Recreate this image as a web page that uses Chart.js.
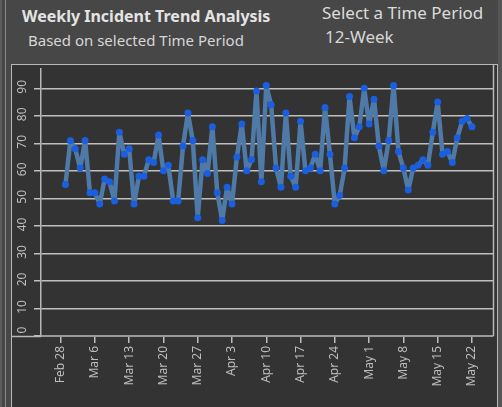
<!DOCTYPE html>
<html>
<head>
<meta charset="utf-8">
<script src="https://cdn.jsdelivr.net/npm/chart.js"></script>
<style>
  html, body { margin: 0; padding: 0; }
  body { width: 502px; height: 407px; overflow: hidden; background: #474747; position: relative; font-family: 'Noto Sans', sans-serif; }
  .txt { position: absolute; white-space: nowrap; line-height: 1; }
  #title { left: 22px; top: 8px; font-size: 16px; font-weight: bold; color: #e4e4e4; }
  #subtitle { left: 28px; top: 33px; font-size: 15px; color: #d6d6d6; }
  #selLabel { left: 322px; top: 4px; font-size: 17px; color: #dcdcdc; }
  #selValue { left: 325px; top: 28px; font-size: 17px; color: #d6d6d6; }
  .edge { position: absolute; top: 0; height: 407px; }
  #panel { position: absolute; left: 11px; top: 64px; width: 487px; height: 343px; box-sizing: border-box;
           background: #333333; border: 1px solid #b8b8b8; border-bottom: none; }
  #chart { position: absolute; left: 0; top: 0; }
</style>
</head>
<body>
<div class="edge" style="left:0;width:2px;background:#5c5c5c"></div>
<div class="edge" style="left:5px;width:1px;background:#8a8a8a"></div>
<div class="edge" style="left:498px;width:4px;background:#555555"></div>

<div class="txt" id="title">Weekly Incident Trend Analysis</div>
<div class="txt" id="subtitle">Based on selected Time Period</div>
<div class="txt" id="selLabel">Select a Time Period</div>
<div class="txt" id="selValue">12-Week</div>

<div id="panel"><canvas id="chart" width="485" height="343"></canvas></div>

<script>
// weekly tick labels (2024), first tick = day 0 (Feb 28)
const tickLabels = ['Feb 28', 'Mar 6', 'Mar 13', 'Mar 20', 'Mar 27', 'Apr 3', 'Apr 10',
                    'Apr 17', 'Apr 24', 'May 1', 'May 8', 'May 15', 'May 22'];
// daily incident counts, Feb 29 .. May 22
const incidents = [55, 71, 68, 61, 71, 52, 52, 48, 57, 56, 49, 74, 66, 68, 48, 58, 58, 64, 63, 73, 60,
                   62, 49, 49, 69, 81, 71, 43, 64, 59, 76, 52, 42, 54, 48, 65, 77, 60, 64, 89, 56, 91,
                   84, 61, 54, 81, 58, 54, 78, 60, 61, 66, 60, 83, 66, 48, 51, 61, 87, 72, 76, 90, 77,
                   86, 69, 60, 71, 91, 67, 61, 53, 61, 62, 64, 62, 74, 85, 66, 67, 63, 72, 78, 79, 76];
const firstDay = 1;   // Feb 29 is one day after Feb 28
const yTicks = [0, 10, 20, 30, 40, 50, 60, 70, 80, 90];

const points = incidents.map((v, i) => ({ x: firstDay + i, y: v }));

// y labels are rotated like the x labels, chart.js can't do that on a vertical axis
const yLabelPlugin = {
  id: 'yLabels',
  afterDraw(chart) {
    const { ctx, chartArea, scales } = chart;
    ctx.save();
    ctx.fillStyle = '#bdbdbd';
    ctx.font = '12px "Noto Sans"';
    ctx.textAlign = 'center';
    ctx.textBaseline = 'middle';
    yTicks.forEach(t => {
      const y = Math.min(scales.y.getPixelForValue(t) - 1.5, chartArea.bottom - 6);
      ctx.save();
      ctx.translate(11, y);
      ctx.rotate(-Math.PI / 2);
      ctx.fillText(String(t), 0, 0);
      ctx.restore();
    });
    // frame: right edge of the plot + bottom of the y column
    ctx.strokeStyle = '#b8b8b8';
    ctx.lineWidth = 1.5;
    ctx.beginPath();
    ctx.moveTo(chartArea.right + 0.5, 0);
    ctx.lineTo(chartArea.right + 0.5, chartArea.bottom);
    ctx.moveTo(0, chartArea.bottom + 0.5);
    ctx.lineTo(chartArea.left, chartArea.bottom + 0.5);
    ctx.stroke();
    ctx.restore();
  }
};

new Chart(document.getElementById('chart'), {
  type: 'line',
  data: {
    datasets: [{
      data: points,
      borderColor: '#4f7aa8',
      borderWidth: 4.5,
      borderJoinStyle: 'round',
      borderCapStyle: 'round',
      tension: 0,
      pointRadius: 3.5,
      pointBackgroundColor: '#1a5fe0',
      pointBorderWidth: 0
    }]
  },
  options: {
    responsive: false,
    animation: false,
    layout: { padding: { top: 1, right: 2, left: 0, bottom: 0 } },
    plugins: { legend: { display: false }, tooltip: { enabled: false } },
    scales: {
      x: {
        type: 'linear',
        min: -4,
        max: 88.3,
        afterBuildTicks: s => { s.ticks = tickLabels.map((_, i) => ({ value: i * 7 })); },
        afterFit: s => { s.height = 72; },
        ticks: {
          autoSkip: false,
          minRotation: 90,
          maxRotation: 90,
          padding: 3,
          color: '#bdbdbd',
          font: { family: 'Noto Sans', size: 12 },
          callback: v => tickLabels[Math.round(v / 7)]
        },
        grid: { drawOnChartArea: false, drawTicks: true, tickLength: 7, color: '#bdbdbd', lineWidth: 1.5 },
        border: { display: true, color: '#9a9a9a', width: 2, dash: [1, 1] }
      },
      y: {
        min: 0,
        max: 97,
        afterBuildTicks: s => { s.ticks = yTicks.map(v => ({ value: v })); },
        afterFit: s => { s.width = 29; },
        ticks: { display: false },
        grid: { color: '#bfbfbf', lineWidth: 1.5, drawTicks: true, tickLength: 7 },
        border: { display: true, color: '#b8b8b8', width: 1.5 }
      }
    }
  },
  plugins: [yLabelPlugin]
});
</script>
</body>
</html>
